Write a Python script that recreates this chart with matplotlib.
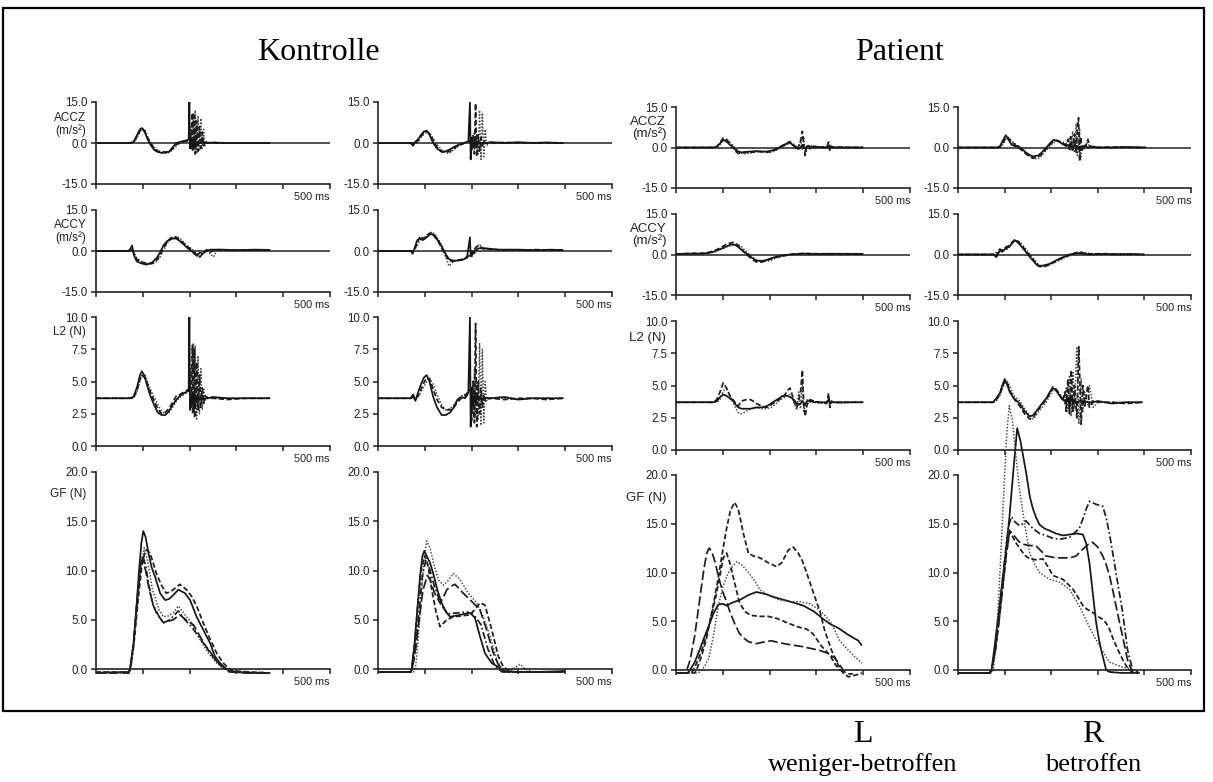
import matplotlib
matplotlib.use('Agg')
import matplotlib.pyplot as plt
from matplotlib.patches import Rectangle

# ---------------- DATA (time in ms, values in units of each panel) ----------------
# Kontrolle, left column
k1_acc_t = [0,70,80,88,94,98,104,110,116,124, 132,140,148,156,164,172,180,188,194,198,
            199.5,201,203,206,208,210,212,215,218,221, 224,227,230,233,238,250,280,320,372]
k1_accz_s = [0,0,0.3,3,5,5.5,4,1.5,-0.5,-2.5, -3.3,-3.6,-3.5,-3.2,-1.5,0,0.4,0.8,1.0,1.2,
             15,-2,2,-1,1,-1.5,1,-1,0.5,0, 0.3,0,0.2,0,0,0.2,0,0,0]
k1_accz_d = [0,0,0.2,2.5,4.5,5.0,4.5,2,0,-2, -3,-3.2,-3.3,-3.2,-2,-0.5,0.3,0.5,0.8,1,
             1.5,3,-2,11,-3,10,-4,8,-3,6, -2,4,-1,1,0,0,0,0,0]
k1_accz_o = [0,0,0,2,4,5.2,5,2.5,0.5,-1.5, -2.8,-3.5,-3.8,-3.5,-2.5,-1,0,0.3,0.5,0.8,
             1,1.2,6,-3,11,-2,12,-4,10,-3, 9,-2,5,-1,0.3,0,0,0,0]
k1_l2_s = [3.7,3.7,3.8,4.6,5.5,5.8,5.4,4.6,3.9,3.2, 2.6,2.4,2.4,2.7,3.2,3.6,3.9,4.1,4.2,4.3,
           10,2.8,4,3.2,4.2,3,4,3.4,3.9,3.6, 3.8,3.6,3.7,3.7,3.7,3.8,3.7,3.7,3.7]
k1_l2_d = [3.7,3.7,3.7,4.4,5.2,5.5,5.3,4.8,4.2,3.5, 2.9,2.5,2.6,2.9,3.4,3.9,4.0,4.2,4.3,4.4,
           4.5,4.8,3,7.8,2.5,7.5,2.2,6.5,2.8,5.5, 3,4.5,3.3,3.9,3.7,3.7,3.6,3.7,3.7]
k1_l2_o = [3.7,3.7,3.7,4.2,5.0,5.6,5.6,5.0,4.4,3.8, 3.2,2.7,2.5,2.6,3.0,3.5,3.8,4.0,4.1,4.3,
           4.4,4.6,6,2.5,8,2.2,7.8,2.0,7,2.5, 6,2.8,4.5,3.5,3.8,3.7,3.7,3.7,3.7]
k1_accy_t = [0,70,74,77,81,87,96,108,120,130, 137,144,151,158,165,172,180,188,196,204,
             210,216,222,228,236,244,251,258,270,300, 340,372]
k1_accy_s = [0,0,1,2,-1.5,-3.8,-4.5,-5,-4.2,-2.5, -0.5,2,3.5,4.2,4.6,4.5,3.5,2.3,1.0,0,
             -1,-1.8,-0.5,-1,0,0.5,0.5,0.5,0.5,0.3, 0.5,0.4]
k1_accy_d = [0,0,0.3,1,-1,-3,-4,-4.5,-4.6,-3.2, -1.5,1,3,4.5,5.2,5,4,2.8,1.5,0.5,
             -0.5,-1.5,-2.2,-1,0.5,-0.5,0.3,0.5,0.4,0.3, 0.4,0.3]
k1_accy_o = [0,0,0,0.5,-0.5,-2.5,-3.8,-4.6,-4.8,-3.8, -2.2,0,2.5,4,5,5.3,4.5,3,1.8,0.8,
             0,-1,-2,-0.5,0,-1,-2.2,0.3,0.5,0.3, 0.3,0.3]
k1_gf_a_t = [0,70,72.6,80,86,92,97,101,106,112, 119,126,137,147.5,156,165,176,190,201,215,
             229,244,254,265,276,286,320,372]
k1_gf_a = [-0.4,-0.3,0,2.5,6,10,12.8,14.0,13.4,11.8, 10.3,9.4,7.7,7.0,7.1,7.5,8.05,7.7,7.0,5.3,
           4.0,2.6,1.3,0.6,0.1,-0.2,-0.4,-0.4]
k1_gf_b_t = [0,70,74,82,90,98,104,107,115,122, 129,140,149.6,157,165,179,193.5,204,215,229,
             244,258,272,283,294,330,372]
k1_gf_b = [-0.3,-0.3,0,3,7,10.5,11.8,12.1,11.8,10.8, 9.7,8.5,7.7,7.8,8.05,8.6,8.05,7.4,6.4,4.7,
           3.0,1.6,0.6,0.1,-0.2,-0.3,-0.4]
k1_gf_c_t = [0,70,73,80,88,96,103,110,121,135, 144,155,165,176,190,204,222,240,258,272, 285,330,372]
k1_gf_c = [-0.3,-0.3,0,2,6.5,10.5,12.3,11,8,6.0, 5.3,5.4,5.7,6.4,5.5,4.7,3.0,1.6,0.6,0.1, -0.2,-0.3,-0.4]
k1_gf_d_t = [0,70,73,80,88,95,100,106,113,122, 135,144,158,176,190,204,222,240,258,269, 285,330,372]
k1_gf_d = [-0.4,-0.4,0,2.5,7,10.5,11.5,10.5,8.5,6.5, 5.3,4.7,5.0,5.9,5.0,4.3,3.1,2.0,0.8,0.2, -0.3,-0.4,-0.4]
k1_gf_e_t = [0,70,73,80,88,94,99,106,114,122, 129,144,165,179,197,208,226,244,261,272, 290,330,372]
k1_gf_e = [-0.4,-0.4,0,2.5,7,10,11.2,10,8,6.5, 5.7,4.7,5.0,5.5,4.8,4.5,3.0,1.6,0.6,0.2, -0.3,-0.4,-0.4]

# Kontrolle, right column
k2_acc_t = [0,70,75,80,86,92,98,104,110,118, 126,136,145,154,162,170,178,186,193,196.5,
            198,200,203,206,208.5,211,214,217,220,223, 226,229,232,240,270,300,330,360,396]
k2_accz_s = [0,0,-1,0.5,1.5,3,4.2,4.5,3,0, -2,-3.3,-3,-2.3,-1.5,-0.8,-0.3,0.2,0.5,15,
             -6,2,-1,1,-1,0.5,0,0.3,0,0, 0,0.2,0,0.3,0,0.3,0,0.2,0]
k2_accz_d = [0,0,0,-0.5,1,2.5,3.8,4.2,3.5,1, -1.5,-3,-3.5,-3,-2,-1,-0.5,0,0.4,0.6,
             1,-3,3,-4,14.5,-5,3,-3,2,-1, 0.5,0,0,0,0.2,0,0,0,0]
k2_accz_o = [0,0,0,0,0.5,2,3.2,4.0,3.8,1.8, -0.5,-2.5,-3.8,-3.5,-2.5,-1.5,-0.5,0,0.3,0.5,
             0.7,1,-2,4,-2,3,-4,12,-6,11, -5,5,-1,0.3,0,0,0.2,0,0]
k2_l2_s = [3.7,3.7,4.0,3.5,4.2,4.8,5.3,5.5,5.0,3.8, 3.0,2.4,2.4,2.6,3.0,3.6,3.8,3.7,4.1,10,
           1.5,4.5,3,4,3.3,3.9,3.6,3.7,3.7,3.6, 3.7,3.7,3.7,3.7,3.8,3.6,3.7,3.7,3.7]
k2_l2_d = [3.7,3.7,3.8,3.7,3.9,4.4,4.9,5.3,5.2,4.4, 3.6,3.0,2.8,2.8,3.0,3.4,3.7,3.9,4.2,4.3,
           4.4,2,5,1.8,9.5,1.5,5,2.5,4.5,3, 4,3.5,3.7,3.7,3.6,3.7,3.7,3.6,3.7]
k2_l2_o = [3.7,3.7,3.7,3.6,3.8,4.2,4.6,5.0,5.3,4.8, 4.0,3.2,2.8,2.9,3.2,3.6,3.9,4.0,4.2,4.4,
           4.5,4.6,2.5,6,2.3,5,2,8,1.6,7.5, 1.8,5,3.5,3.7,3.7,3.6,3.7,3.7,3.7]
k2_accy_t = [0,70,74,78,84,90,96,104,110,116, 122,130,138,146,152,160,170,180,190,196.5,
             198,201,205,210,216,222,230,240,260,300, 340,370,396]
k2_accy_s = [0,0,-1,1,4,4.5,4,5,6,6.2, 5,3.5,1,-1.5,-3,-3.5,-3.5,-3.3,-2.5,5,
             -2,0,-1,0.5,1,1,1,0.8,0.5,0.5, 0.3,0.5,0.3]
k2_accy_d = [0,0,-0.5,0.5,3,5.5,4.5,5.5,6.5,6.5, 5.5,3,0.5,-2,-3.5,-3.8,-3.5,-3,-2.2,-1.5,
             -1,-1.5,0.5,1.5,2,1,0.5,0.7,0.3,0.3, 0.5,0.3,0.3]
k2_accy_o = [0,0,0,0.3,2,4,4.5,5.5,6.5,7, 6,4,1.5,-3,-5.5,-4,-3.2,-3,-2.5,-2,
             -1.5,-2,0,1,2.5,1.5,0.8,0.5,0.3,0.5, 0.3,0.4,0.3]
k2_gf_a_t = [0,70,72,78,84,90,95,99,104,111, 118,127,136,145,154,165,175.5,186,196.6,207,
             218,228.5,243,257,270,300,340,400]
k2_gf_a = [-0.3,-0.3,0,2.5,6,9.5,11.5,12.0,11.5,10.8, 9.7,8,6.7,5.8,5.3,5.4,5.5,5.6,5.7,5.2,
           3.3,1.6,0.6,0.2,-0.2,-0.3,-0.3,-0.2]
k2_gf_b_t = [0,76,80,86,92,98,104,111,120,130, 139.6,150,161,175,193,211,225,239.6,254,264,
             280,295,303.5,314,330,370,400]
k2_gf_b = [-0.3,-0.3,0,3,7,11,13.0,12.3,10.5,9.0, 8.5,9.0,9.7,9.1,7.7,6.7,5.3,3.3,0.9,0.1,
           -0.3,0.2,0.5,0,-0.3,-0.3,-0.2]
k2_gf_c_t = [0,70,73,80,88,96,105.5,112,120,132.5, 140,147,156,164.6,182,203.7,218,232,246.5,257,
             270,300,340,400]
k2_gf_c = [-0.3,-0.3,0,2,5,8,9.5,9.0,7.8,6.7, 7.3,8.05,8.4,8.6,7.7,6.7,6.0,4.0,1.6,0.45,
           -0.3,-0.3,-0.3,-0.3]
k2_gf_d_t = [0,70,72,78,85,92,100,107,115,124, 132.5,147,161,180,196.6,210,218,228.5,243,257,
             268,285,340,400]
k2_gf_d = [-0.3,-0.3,0,2.5,6.5,10,11.5,10.5,8,5.8, 4.3,5.0,5.3,5.4,5.5,6.2,6.7,6.5,4.0,1.3,
           0.2,-0.3,-0.3,-0.3]
k2_gf_e_t = [0,70,73,80,88,95,102,110,120,135, 150,170,190,205,220,235,250,265,300,400]
k2_gf_e = [-0.3,-0.3,0,2,6,9.5,11,10.2,8.5,6.5, 5.6,5.7,5.8,5.5,4.5,2.0,0.3,-0.3,-0.3,-0.3]

# Patient, L (weniger-betroffen)
p1_acc_t = [0,80,87,94,101,108,115,122,128,133, 140,150,160,172,183,194,203,211,220,228,
            233,238,243.5,249,254,258,262,266,270,273, 276,280,286,295,307,322,326,329,332,336,
            350,375,400]
p1_accz_s = [0,0,0.3,1.5,2.8,2.2,1,0,-1,-1.5, -1.8,-1.6,-1.5,-1.3,-1.5,-1.5,-1.2,-0.8,0,0.8,
             1.2,1.5,1.8,1,0.5,0,-0.5,0,1,0, -0.5,0.5,0.3,0,0.2,0,0.5,-0.3,0.2,0, 0,0,0]
p1_accz_d = [0,0,0.2,1.8,3.5,3,1.5,0.2,-1.5,-2.2, -2,-1.8,-1.8,-1.5,-1.6,-1.8,-1.5,-1,-0.2,0.5,
             1,1.8,2.2,1.2,0,-1,0.5,2,6,1, -3,1,-0.5,0.5,0,0,2,-1,0.5,0, 0.2,0,0]
p1_accz_o = [0,0,0,1,2.5,3,2,0.8,-0.5,-1.2, -2.2,-2.3,-2,-1.6,-1.4,-1.6,-1.8,-1.3,-0.5,0.3,
             0.8,1.2,1.4,1.5,1,0.2,-1,3,-1,4, -2.5,0,1,0,0.2,0.3,-0.5,1,-0.2,0.3, 0,0.1,0]
p1_l2_s = [3.7,3.7,3.8,4.1,4.3,4.2,4.0,3.8,3.5,3.3, 3.2,3.2,3.2,3.3,3.3,3.4,3.6,3.8,4.0,4.2,
           4.2,4.2,4.1,4.0,3.8,3.6,3.5,3.6,3.8,3.6, 3.5,3.8,3.8,3.7,3.7,3.7,3.9,3.6,3.7,3.7,
           3.7,3.7,3.7]
p1_l2_d = [3.7,3.7,3.9,4.5,5.2,4.8,4.2,3.9,3.6,3.4, 3.8,3.9,3.9,3.6,3.4,3.3,3.5,3.7,3.9,4.1,
           4.3,4.6,4.8,4.2,3.6,3.3,3.8,4.5,6.2,3.5, 2.6,3.5,3.9,3.8,3.7,3.6,4.4,3.3,3.8,3.7,
           3.7,3.7,3.7]
p1_l2_o = [3.7,3.7,3.7,3.9,4.6,4.7,4.3,3.7,3.2,2.9, 2.8,3.0,3.2,3.3,3.2,3.2,3.3,3.5,3.8,4.0,
           4.1,4.3,4.3,3.9,3.5,3.1,4.5,3.2,5.3,3.0, 3.4,3.9,3.7,3.8,3.6,3.7,3.8,3.6,3.7,3.7,
           3.6,3.7,3.7]
p1_accy_t = [0,30,58,70,80,87,95,102,108,115, 122,130,137,145,154,163,172,183,194,205,
             215,230,243,270,300,330,360,400]
p1_accy_s = [0.2,0.3,0.3,0.6,1,1.5,2,2.6,3,3.5, 3.8,3.2,2.2,1,0,-1.3,-2.2,-2.4,-2,-1.3,
             -0.8,-0.3,0,0.3,0.2,0.3,0.2,0.2]
p1_accy_d = [0.2,0.4,0.5,0.8,1.3,1.8,2.5,3.2,3.8,4.2, 4.5,3.8,2.5,1,-0.5,-1.8,-2.8,-2.8,-2.2,-1.5,
             -1,-0.5,0,0.4,0.3,0.2,0.3,0.2]
p1_accy_o = [0.1,0.2,0.4,0.5,0.8,1.3,1.8,2.2,2.8,3.2, 3.5,3.8,3.4,2,0.5,-1,-2,-2.6,-2.5,-2,
             -1.2,-0.6,-0.2,0.2,0.3,0.2,0.3,0.2]
p1_gf_a_t = [0,20,23,30,40,50,60,66,70.5,76, 84,91,100,108,115,125,135,144,155,172,
             190,204,220,243,270,308,325,340,350,357, 364,378]
p1_gf_a = [-0.3,-0.3,0,1,3.5,7,10.5,12,12.5,12.2, 11,9.5,8,7,6,4.8,3.8,3.3,2.9,2.7,
           2.9,3.0,2.8,2.6,2.4,2.0,1.7,1.2,0.5,0, -0.4,-0.4]
p1_gf_b_t = [0,40,44,55,65,72.6,82,90.5,100,108, 116,125,133,144,154.5,165,179.5,197,215,226,
             240,250.6,261,270,279,293,307.5,318,332.5,346.7, 357,368,386,397]
p1_gf_b = [-0.3,-0.3,0,1.5,3.2,5,7.3,9.5,12.3,14.5, 16.3,17.2,16.5,14,12,11.7,11.5,11,10.6,11,
           12.3,12.6,12,11.2,10,8,6,4,2,0.5, -0.3,-0.7,-0.5,-0.3]
p1_gf_c_t = [0,25,30,40,50,60,70,80,90,100, 108,120,137,155,172,190,215,245,272,295,
             315,330,347,365,379,390,397]
p1_gf_c = [-0.3,-0.3,0,0.8,2,3.3,4.5,5.8,6.7,6.8, 6.6,6.9,7.2,7.7,8.0,7.8,7.4,7.0,6.6,6.0,
           5.2,4.7,4.3,3.7,3.3,3.0,2.5]
p1_gf_d_t = [0,45,51,60,70,80,90,100,110,120, 130,140,155,170,180,200,220,244,265,286,
             305,320,329,340,350,365,379,397]
p1_gf_d = [-0.3,-0.3,-0.2,0.3,1.2,3.5,6.5,8.5,9.8,10.6, 11.1,10.8,10,9,8.2,7.6,7.2,7.0,7.0,6.8,
           6.2,5.5,5.0,4.0,3.0,2.2,1.5,0.7]
p1_gf_e_t = [0,33,37,45,55,65,75,85,95,101, 108,115,125,135,147,160,179.5,197,215,240,
             262,279,293,310,329,340,350,364]
p1_gf_e = [-0.3,-0.3,0,0.8,2,3.5,5.5,7.5,10,11.5, 12,11,9,7,6,5.6,5.5,5.5,5.3,4.8,
           4.4,4.2,3.7,2.5,1.5,0.6,0,-0.3]

# Patient, R (betroffen)
p2_accz_t = [0,85,90,96,102.6,108,115,122,129,137, 147,154,161,171.6,180,189.4,197,205,212,218,
             225,232,236,239,242,246,250,253.6,256,258.6, 261,263,266,270,275,278.6,283,289,300,330,
             360,403]
p2_accz_s = [0,0,0.5,2.5,4.5,3,1,0.5,0.5,-0.5, -2,-2.8,-3.3,-3,-1.8,0,1.5,2.8,2.5,2,
             1.2,0.5,1,0,1.5,-0.5,1,0,0.5,-0.5, 0.3,0,0.5,0,0.3,0,0.2,0.3,0,0, 0.2,0]
p2_accz_d = [0,0,0.2,1.5,3.8,3.5,2,1,0,-1, -2.5,-3.5,-4,-3.5,-2.5,-0.5,1,2.2,2.7,2.2,
             1.5,1,3,-1,4,-1,5,-2,6,11, -5,4,-1,0.5,1,3,0.5,0.3,0,0.2, 0,0]
p2_accz_o = [0,0,0,1,3,3.8,2.5,1.5,0.5,-1, -2.2,-3,-4,-4.2,-3,-1,0.5,1.8,2.4,2.4,
             2,1.5,2,3.5,-1,6,-2,9,-3,2, 7,-4.5,1,-1,0.5,2.5,-0.5,0.5,0.2,0, 0.1,0]
p2_accy_t = [0,75.5,79,82.6,86,89.8,95,100.4,106,111, 116,121.8,128,136,143,150,157,164.6,170,175,
             185,196.5,207,218,228,239,250,260.6,270,282, 310,340,370,400]
p2_accy_s = [0,0,-0.5,-1,0.5,1.5,1,2,2.5,3, 4.2,5.3,4.5,3,1.5,0,-1.5,-3,-4,-4.3,
             -4,-3.5,-2.5,-1.5,-0.8,0,0.3,0.5,0.3,0, 0.2,0,0.2,0]
p2_accy_d = [0,0,0.5,-0.5,1.5,2,1.5,2.5,3,3.5, 4.5,5.5,5,3.5,2,0.5,-1,-2.5,-3.5,-4.5,
             -4.5,-3.8,-2.8,-1.8,-1,-0.3,0.5,1,0.5,0.2, 0.3,0.2,0,0]
p2_accy_o = [0,0,0,1,0,1,2,1.5,2,3, 4,5,5.2,4,2.5,1,-0.5,-2,-3.2,-4,
             -4.2,-3.8,-3,-2.2,-1.2,-0.5,0,0.6,0.8,0.4, 0,0.3,0.1,0]
p2_l2_t = [0,75.5,82,89.8,95,100.4,106,111,120,132.4, 143,153.8,161,168,178,189.4,197,203.6,211,218,
           225,229,232,235.8,239.3,242.9,246.5,250,255,259.3, 264.3,268,272,278.5,282,290,300,330,360,396]
p2_l2_s = [3.7,3.7,4.0,4.4,5.0,5.5,5.0,4.5,4.0,3.6, 3.0,2.6,2.7,3.0,3.5,4.0,4.5,4.8,4.6,4.2,
           3.9,3.8,3.7,4.0,3.5,4.2,3.6,3.8,3.5,3.8, 3.7,3.6,3.8,3.7,3.7,3.7,3.8,3.6,3.7,3.7]
p2_l2_d = [3.7,3.7,3.9,4.3,4.9,5.3,5.2,4.6,4.0,3.4, 2.8,2.4,2.5,2.9,3.4,3.9,4.4,4.9,4.7,4.3,
           3.8,4.5,3,5.5,2.8,6.2,3,5,2.5,8, 2,5,3.4,5,3.3,3.8,3.7,3.7,3.6,3.7]
p2_l2_o = [3.7,3.7,3.8,4.2,4.7,5.2,5.3,4.9,4.2,3.8, 3.2,2.7,2.4,2.7,3.2,3.7,4.2,4.6,4.6,4.4,
           4,3.6,4.8,3,5.8,2.6,6,3.2,8,2.0, 5.5,3,4.5,3.5,5,3.3,3.7,3.7,3.7,3.7]
p2_gf_a_t = [0,68,72,80,90,100,110,118,127,134, 140,147,154,161,168,175,186,196.5,210,225,
             240,254,268,275,282,289,296,303,310,318, 325,350,389]
p2_gf_a = [-0.3,-0.3,0,3,7,11,15.5,20,24.8,23.5, 21.9,20,17.8,16.5,15.6,14.9,14.5,14.3,14.0,13.8,
           13.9,14.0,13.9,13.0,11,8,5,3,1.5,0, -0.2,-0.3,-0.3]
p2_gf_b_t = [0,72,76,82,88,94,100,105,110,117, 125,132,139.5,147,153.8,165,175,196.5,218,239,
             260,282,303,325,353,382]
p2_gf_b = [-0.3,-0.3,0,3,8,14,20,24.5,27.1,25.5, 21.6,18.5,16.1,13.8,12,10.8,10,9.3,9,8.3,
           6.6,4.4,2.5,0.8,0.3,0]
p2_gf_c_t = [0,68,72,80,88,96,104,110,114.7,122, 132,140,146,155,161,175,189,204,218,239,
             260,268,275,282,296,310.6,318,325,332,339, 346,353,364,375,389]
p2_gf_c = [-0.3,-0.3,0,2,5.5,9.5,13,15,15.7,15.2, 14.8,15,15.3,14.8,14.5,14,13.8,13.5,13.4,13.6,
           14.5,15.5,16.5,17.3,17.0,16.8,15.6,14,12,10, 8,6,2,0,-0.3]
p2_gf_d_t = [0,68,72,80,88,96,104,111,120,130, 139.5,150,168,189,210,225,240,253.6,268,280,
             289,300,310.6,318,325,332,339,346,353,364, 375,389]
p2_gf_d = [-0.3,-0.3,0,2,5,8.5,12,14.3,13.8,13.2, 12.9,12.8,12.7,11.7,11.5,11.5,11.5,11.7,12.4,12.9,
           13.1,12.6,11.7,10.8,9.7,8.2,6.6,5,3.5,1, -0.3,-0.3]
p2_gf_e_t = [0,68,72,80,88,96,104,111,118,125, 135,145,154,168,182,193,203.6,214,225,236,
             246.5,257,268,278,289,300,310.6,318,325,332, 339,346,353,360,367.6,378,389]
p2_gf_e = [-0.3,-0.3,0,2,5,8.5,12,14.2,13.6,13, 12.3,11.7,11.4,11.3,11.4,10.6,9.7,9.5,9.3,8.8,
           8.3,7.5,6.6,6.2,5.9,5.5,5.2,4.8,4.2,3.3, 2.5,1.8,1.1,0.5,0,-0.3,-0.3]

acc_ticks = [-15.0, 0.0, 15.0]
l2_ticks = [0.0, 2.5, 5.0, 7.5, 10.0]
gf_ticks = [0.0, 5.0, 10.0, 15.0, 20.0]
time_ticks = [0, 100, 200, 300, 400, 500]
titles = ["Kontrolle", "Patient"]
side_letters = ["L", "R"]
side_words = ["weniger-betroffen", "betroffen"]

# ---------------- LAYOUT ----------------
W, H = 1213, 782
plt.rcParams['font.family'] = ['Liberation Sans', 'DejaVu Sans']
fig = plt.figure(figsize=(W / 100, H / 100), dpi=100)
fig.patch.set_facecolor('white')

INK = '#222222'
SOLID = dict(color='#151515', lw=1.25, ls='-')
DASH = dict(color='#1e1e1e', lw=1.25, ls=(0, (3.0, 1.5)))
LDASH = dict(color='#1e1e1e', lw=1.25, ls=(0, (5.5, 2.0)))
DOT = dict(color='#444444', lw=1.05, ls=(0, (1, 1.2)))
DDOT = dict(color='#1e1e1e', lw=1.25, ls=(0, (4, 1.5, 1, 1.5)))

col_x = [(96, 330), (378, 612), (676, 910), (958, 1191)]
rows_k = [(102, 184), (210, 292), (317, 446), (472, 669)]
rows_p = [(107, 188), (214, 295), (321, 450), (475, 670)]


def add_ax(xs, ys):
    x0, x1 = xs
    yt, yb = ys
    return fig.add_axes([x0 / W, 1 - yb / H, (x1 - x0) / W, (yb - yt) / H])


def style(ax, ticks):
    ax.set_xlim(0, 500)
    ax.set_ylim(ticks[0], ticks[-1])
    ax.patch.set_alpha(0)
    for s in ['top', 'right']:
        ax.spines[s].set_visible(False)
    for s in ['left', 'bottom']:
        ax.spines[s].set_linewidth(1.2)
        ax.spines[s].set_color(INK)
    ax.set_xticks(time_ticks)
    ax.set_xticklabels([])
    ax.set_yticks(ticks)
    ax.set_yticklabels(['%.1f' % v for v in ticks])
    ax.tick_params(direction='out', length=3.5, width=1.1, color=INK,
                   labelsize=8.3, labelcolor=INK, pad=2.5)
    ax.annotate('500 ms', xy=(1, 0), xycoords='axes fraction', xytext=(0, -6),
                textcoords='offset points', ha='right', va='top', fontsize=7.8,
                color=INK)


def ylab(ax, text, frac, size):
    ax.annotate(text, xy=(0, frac), xycoords='axes fraction', xytext=(-7, 0),
                textcoords='offset points', ha='right', va='center', fontsize=size,
                color=INK, linespacing=1.0)


def line(ax, t, v, st, clip=True):
    n = min(len(t), len(v))
    ax.plot(t[:n], v[:n], clip_on=clip, solid_capstyle='butt', **st)


panels = [
    (0, rows_k,
     (k1_acc_t, k1_accz_s, k1_accz_d, k1_accz_o),
     (k1_accy_t, k1_accy_s, k1_accy_d, k1_accy_o),
     (k1_acc_t, k1_l2_s, k1_l2_d, k1_l2_o),
     [(k1_gf_a_t, k1_gf_a, SOLID), (k1_gf_b_t, k1_gf_b, DASH), (k1_gf_c_t, k1_gf_c, DOT),
      (k1_gf_d_t, k1_gf_d, DDOT), (k1_gf_e_t, k1_gf_e, LDASH)],
     (0.73, 0.74, 0.88, 0.89), 8.5),
    (1, rows_k,
     (k2_acc_t, k2_accz_s, k2_accz_d, k2_accz_o),
     (k2_accy_t, k2_accy_s, k2_accy_d, k2_accy_o),
     (k2_acc_t, k2_l2_s, k2_l2_d, k2_l2_o),
     [(k2_gf_a_t, k2_gf_a, SOLID), (k2_gf_b_t, k2_gf_b, DOT), (k2_gf_c_t, k2_gf_c, LDASH),
      (k2_gf_d_t, k2_gf_d, DASH), (k2_gf_e_t, k2_gf_e, DDOT)],
     None, 0),
    (2, rows_p,
     (p1_acc_t, p1_accz_s, p1_accz_d, p1_accz_o),
     (p1_accy_t, p1_accy_s, p1_accy_d, p1_accy_o),
     (p1_acc_t, p1_l2_s, p1_l2_d, p1_l2_o),
     [(p1_gf_a_t, p1_gf_a, LDASH), (p1_gf_b_t, p1_gf_b, DASH), (p1_gf_c_t, p1_gf_c, SOLID),
      (p1_gf_d_t, p1_gf_d, DOT), (p1_gf_e_t, p1_gf_e, DASH)],
     (0.74, 0.74, 0.87, 0.88), 9.5),
    (3, rows_p,
     (p2_accz_t, p2_accz_s, p2_accz_d, p2_accz_o),
     (p2_accy_t, p2_accy_s, p2_accy_d, p2_accy_o),
     (p2_l2_t, p2_l2_s, p2_l2_d, p2_l2_o),
     [(p2_gf_a_t, p2_gf_a, SOLID), (p2_gf_b_t, p2_gf_b, DOT), (p2_gf_c_t, p2_gf_c, DDOT),
      (p2_gf_d_t, p2_gf_d, LDASH), (p2_gf_e_t, p2_gf_e, DASH)],
     None, 0),
]

for ci, rows, az, ay, l2, gf, labs, lsize in panels:
    xs = col_x[ci]
    for ri, data in [(0, az), (1, ay)]:
        ax = add_ax(xs, rows[ri])
        style(ax, acc_ticks)
        ax.axhline(0, color=INK, lw=1.1, zorder=1)
        t, s, d, o = data
        line(ax, t, o, DOT)
        line(ax, t, d, DASH)
        line(ax, t, s, SOLID)
        if labs:
            ylab(ax, ['ACCZ\n(m/s²)', 'ACCY\n(m/s²)'][ri], labs[ri], lsize)
    ax = add_ax(xs, rows[2])
    style(ax, l2_ticks)
    t, s, d, o = l2
    line(ax, t, o, DOT)
    line(ax, t, d, DASH)
    line(ax, t, s, SOLID)
    if labs:
        ylab(ax, 'L2 (N)', labs[2], lsize)
    ax = add_ax(xs, rows[3])
    style(ax, gf_ticks)
    for t, v, st in gf:
        line(ax, t, v, st, clip=False)
    if labs:
        ylab(ax, 'GF (N)', labs[3], lsize)

# Frame and titles
fig.add_artist(Rectangle((3 / W, 1 - 711 / H), (1204 - 3) / W, (711 - 8) / H,
                         transform=fig.transFigure, fill=False, lw=1.6,
                         edgecolor='black'))
serif = ['Liberation Serif', 'DejaVu Serif']
fig.text(318 / W, 1 - 52 / H, titles[0], ha='center', va='center', fontsize=23, family=serif)
fig.text(900 / W, 1 - 52 / H, titles[1], ha='center', va='center', fontsize=23, family=serif)
fig.text(863 / W, 1 - 734 / H, side_letters[0], ha='center', va='center', fontsize=23, family=serif)
fig.text(1093 / W, 1 - 734 / H, side_letters[1], ha='center', va='center', fontsize=23, family=serif)
fig.text(863 / W, 1 - 765 / H, side_words[0], ha='center', va='center', fontsize=19, family=serif)
fig.text(1093 / W, 1 - 765 / H, side_words[1], ha='center', va='center', fontsize=19, family=serif)

fig.savefig('out.png', dpi=100, facecolor='white')
